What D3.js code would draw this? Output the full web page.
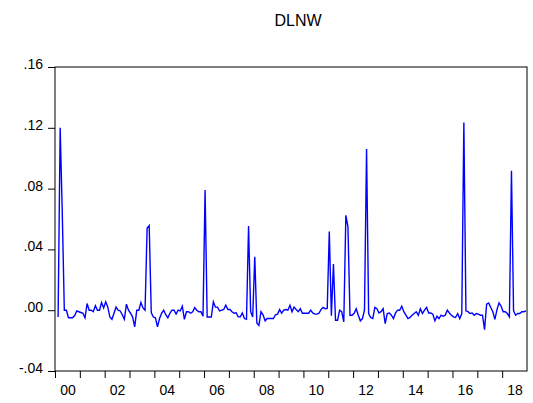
<!DOCTYPE html>
<html>
<head>
<meta charset="utf-8">
<script src="https://cdn.jsdelivr.net/npm/d3@7.9.0/dist/d3.min.js"></script>
<style>
  body { margin: 0; background: #fff; }
  text { font-family: Arial, "Liberation Sans", sans-serif; }
</style>
</head>
<body>
<div id="chart"></div>
<script>
// monthly series, first value is 2000M02
const firstYear = 2000;
const firstMonth = 2;
const dlnw = [
  -0.0044, 0.120, 0.065, 0.000, 0.000, -0.005, -0.005, -0.005, -0.0035, -0.0005, -0.001,
  -0.0015, -0.002, -0.005, 0.0044, 0.000, 0.000, -0.001, 0.003, 0.000, 0.000, 0.005, 0.0015,
  0.0055, 0.002, -0.0045, -0.006, -0.002, 0.002, 0.000, -0.0005, -0.003, -0.006, 0.004, 0.000,
  -0.002, -0.0045, -0.011, 0.000, 0.000, 0.005, 0.0015, 0.000, 0.054, 0.0556, -0.0015, -0.0045,
  -0.005, -0.011, -0.0055, -0.002, 0.000, -0.003, -0.005, -0.002, 0.000, 0.000, -0.0025, 0.000,
  -0.0005, 0.0026, -0.006, -0.001, -0.001, -0.002, -0.001, 0.0017, 0.000, -0.001, -0.001, -0.004,
  0.079, -0.0045, -0.0045, -0.0045, 0.0055, 0.002, 0.002, -0.0005, 0.000, 0.0005, 0.0033, 0.0005,
  0.0005, -0.001, -0.002, -0.0017, -0.0044, -0.0044, -0.0018, -0.0055, -0.006, 0.0554, -0.001, -0.0044,
  0.0352, -0.0084, -0.010, -0.001, -0.003, -0.007, -0.0055, -0.0055, -0.0055, -0.0055, -0.003, -0.0026,
  0.0004, -0.002, 0.000, 0.0004, 0.000, 0.0033, -0.001, 0.002, 0.0004, -0.001, 0.001, -0.002,
  -0.002, -0.002, -0.002, 0.000, -0.0018, -0.0026, -0.0026, -0.002, 0.0004, 0.0018, 0.001, 0.0012,
  0.0518, -0.0037, 0.0303, -0.0066, -0.0066, 0.000, -0.001, -0.0077, 0.0624, 0.055, -0.0033, -0.0033,
  -0.002, 0.001, -0.0033, -0.007, -0.0055, 0.000, 0.106, -0.0022, -0.0048, -0.0055, 0.0018, 0.001,
  -0.0018, -0.001, 0.001, -0.0088, -0.0022, -0.0018, -0.0033, -0.0055, -0.0018, 0.000, 0.000, 0.0026,
  -0.001, -0.0033, -0.0055, -0.0048, -0.0033, -0.0022, -0.001, -0.0033, 0.001, -0.0022, 0.000, 0.0018,
  -0.0018, -0.0018, -0.0026, -0.007, -0.004, -0.0055, -0.0033, -0.004, -0.0033, 0.000, -0.0018, -0.0033,
  -0.0044, -0.0048, -0.0022, -0.0055, -0.0022, 0.1234, -0.0004, -0.001, -0.0022, -0.0018, -0.0033, -0.0022,
  -0.0026, -0.0033, -0.0033, -0.0128, 0.004, 0.0048, 0.0018, -0.001, -0.006, 0.0004, 0.0048, 0.0026,
  -0.001, -0.001, -0.0022, -0.0044, 0.0918, -0.0004, -0.0033, -0.0022, -0.0022, -0.001, -0.001, -0.0004
];
const yTicks = [-0.04, 0.00, 0.04, 0.08, 0.12, 0.16];
const yearTicks = d3.range(2000, 2019);
const yearLabels = ["00", "02", "04", "06", "08", "10", "12", "14", "16", "18"];

const data = dlnw.map((v, i) => {
  const m = firstMonth - 1 + i;
  return { t: firstYear + (m + 0.5) / 12, v: v };
});

const width = 533, height = 403;
const margin = {left: 55, right: 527, top: 67, bottom: 371};

const svg = d3.select("#chart").append("svg")
  .attr("width", width)
  .attr("height", height);

const x = d3.scaleLinear().domain([2000, 2019]).range([margin.left, margin.right]);
const y = d3.scaleLinear().domain([-0.04, 0.16]).range([margin.bottom, margin.top]);

// title
svg.append("text")
  .attr("x", 298)
  .attr("y", 26)
  .attr("text-anchor", "middle")
  .attr("font-size", "16px")
  .text("DLNW");

// y axis, plain hyphen for negatives like the original
const fmt = d => (d < 0 ? "-" : "") + Math.abs(d).toFixed(2).replace(/^0/, "");
const yAxis = svg.append("g")
  .attr("transform", `translate(${margin.left},0)`)
  .call(d3.axisLeft(y).tickValues(yTicks).tickSize(7).tickPadding(5).tickFormat(fmt));
yAxis.select(".domain").remove();
yAxis.selectAll("text").attr("font-size", "14px").attr("font-family", null).attr("dy", "0.11em");

// year ticks
const xAxis = svg.append("g")
  .attr("transform", `translate(0,${margin.bottom})`)
  .call(d3.axisBottom(x).tickValues(yearTicks).tickSize(7).tickFormat(""));
xAxis.select(".domain").remove();

// year labels sit in the middle of the year
const xLab = svg.append("g")
  .attr("transform", `translate(0,${margin.bottom})`)
  .call(d3.axisBottom(x)
    .tickValues(yearLabels.map((d, i) => 2000.5 + 2 * i))
    .tickSize(0).tickPadding(14)
    .tickFormat((d, i) => yearLabels[i]));
xLab.select(".domain").remove();
xLab.selectAll("text").attr("font-size", "14px").attr("font-family", null);

// frame
svg.append("rect")
  .attr("x", margin.left)
  .attr("y", margin.top)
  .attr("width", margin.right - margin.left)
  .attr("height", margin.bottom - margin.top)
  .attr("fill", "none")
  .attr("stroke", "#000")
  .attr("stroke-width", 1);

// series
const line = d3.line().x(d => x(d.t)).y(d => y(d.v));
svg.append("path")
  .datum(data)
  .attr("fill", "none")
  .attr("stroke", "#0000ff")
  .attr("stroke-width", 1.4)
  .attr("stroke-linejoin", "miter")
  .attr("d", line);
</script>
</body>
</html>
